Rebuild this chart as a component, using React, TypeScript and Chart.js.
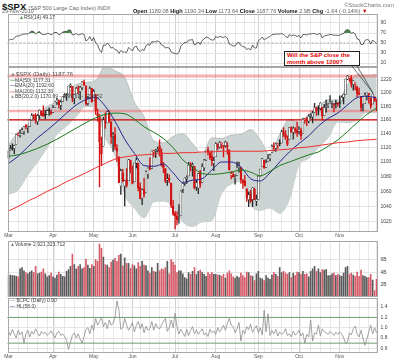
import React, { useEffect, useRef } from 'react';
import { Chart, registerables } from 'chart.js';

Chart.register(...registerables);

const FONT = "'Liberation Sans', Arial, sans-serif";

// ---------------- categories ----------------
const monthNames = ['Mar', 'Apr', 'May', 'Jun', 'Jul', 'Aug', 'Sep', 'Oct', 'Nov'];
const tradingDays: number[][] = [
  [1, 2, 3, 4, 5, 8, 9, 10, 11, 12, 15, 16, 17, 18, 19, 22, 23, 24, 25, 26, 29, 30, 31],
  [1, 5, 6, 7, 8, 9, 12, 13, 14, 15, 16, 19, 20, 21, 22, 23, 26, 27, 28, 29, 30],
  [3, 4, 5, 6, 7, 10, 11, 12, 13, 14, 17, 18, 19, 20, 21, 24, 25, 26, 27, 28],
  [1, 2, 3, 4, 7, 8, 9, 10, 11, 14, 15, 16, 17, 18, 21, 22, 23, 24, 25, 28, 29, 30],
  [1, 2, 6, 7, 8, 9, 12, 13, 14, 15, 16, 19, 20, 21, 22, 23, 26, 27, 28, 29, 30],
  [2, 3, 4, 5, 6, 9, 10, 11, 12, 13, 16, 17, 18, 19, 20, 23, 24, 25, 26, 27, 30, 31],
  [1, 2, 3, 7, 8, 9, 10, 13, 14, 15, 16, 17, 20, 21, 22, 23, 24, 27, 28, 29, 30],
  [1, 4, 5, 6, 7, 8, 11, 12, 13, 14, 15, 18, 19, 20, 21, 22, 25, 26, 27, 28, 29],
  [1, 2, 3, 4, 5, 8, 9, 10, 11, 12, 15, 16, 17, 18, 19, 22, 23, 24, 26, 29],
];

// ---------------- price series ($SPX daily) ----------------
const opens = [
  1105.4, 1117.0, 1119.4, 1119.1, 1125.1, 1138.4, 1137.6, 1140.2, 1143.0, 1151.7, 1148.5, 1150.8, 1159.9, 1166.1, 1166.7, 1157.3, 1166.5, 1172.7, 1170.0, 1167.6, 1167.7, 1173.8, 1171.8,
  1171.2, 1178.7, 1186.0, 1188.2, 1181.8, 1187.5, 1194.9, 1195.9, 1198.7, 1210.8, 1210.2, 1192.1, 1199.0, 1207.2, 1202.5, 1207.9, 1217.1, 1209.9, 1184.6, 1193.3, 1206.8,
  1188.6, 1197.5, 1169.2, 1164.4, 1127.0, 1122.3, 1156.4, 1155.4, 1170.0, 1157.2, 1136.5, 1138.8, 1119.6, 1107.3, 1067.3, 1084.8, 1067.4, 1075.5, 1074.3, 1102.6,
  1087.3, 1073.0, 1098.8, 1098.4, 1065.8, 1050.8, 1062.8, 1058.8, 1082.7, 1095.0, 1091.2, 1114.0, 1115.0, 1116.2, 1122.8, 1113.9, 1095.6, 1090.9, 1075.1, 1077.5, 1071.1, 1040.6,
  1031.1, 1027.7, 1028.1, 1028.5, 1062.9, 1070.5, 1077.2, 1080.7, 1095.6, 1094.5, 1093.9, 1066.0, 1064.5, 1086.7, 1072.1, 1092.2, 1102.9, 1117.4, 1112.8, 1108.1, 1098.4,
  1107.5, 1125.3, 1121.1, 1125.8, 1122.1, 1122.8, 1122.9, 1116.9, 1081.5, 1082.2, 1077.5, 1081.2, 1092.1, 1092.4, 1075.6, 1073.4, 1063.2, 1048.9, 1056.3, 1049.3, 1062.9, 1046.9,
  1049.7, 1080.7, 1093.6, 1102.6, 1092.4, 1101.2, 1104.6, 1113.4, 1121.2, 1119.4, 1123.9, 1126.4, 1126.6, 1142.8, 1139.5, 1131.1, 1131.7, 1148.6, 1142.3, 1146.8, 1145.0,
  1143.5, 1144.9, 1140.7, 1159.8, 1161.6, 1158.4, 1165.3, 1164.3, 1171.3, 1177.8, 1177.5, 1176.8, 1178.6, 1166.7, 1179.6, 1180.5, 1184.7, 1184.9, 1183.8, 1184.5, 1183.9,
  1185.7, 1187.9, 1193.8, 1198.3, 1221.2, 1223.2, 1223.6, 1213.1, 1213.0, 1209.1, 1200.4, 1194.8, 1178.3, 1183.8, 1196.1, 1198.1, 1192.5, 1183.7, 1194.2, 1189.1,
];
const highs = [
  1116.1, 1123.5, 1125.6, 1123.7, 1139.4, 1141.1, 1145.4, 1148.3, 1150.2, 1153.4, 1150.9, 1160.3, 1169.2, 1167.8, 1169.2, 1167.8, 1174.7, 1173.0, 1180.7, 1173.9, 1174.9, 1177.8, 1174.6,
  1181.4, 1187.7, 1191.8, 1189.6, 1188.6, 1194.7, 1199.2, 1199.0, 1210.7, 1213.9, 1210.2, 1197.9, 1208.6, 1210.9, 1210.3, 1217.3, 1219.8, 1211.4, 1195.1, 1209.4, 1207.0,
  1205.1, 1197.5, 1175.9, 1167.6, 1135.1, 1163.9, 1170.5, 1172.9, 1173.6, 1157.2, 1141.9, 1148.7, 1124.3, 1107.3, 1090.2, 1089.9, 1074.8, 1090.8, 1103.5, 1102.6,
  1094.8, 1098.6, 1105.7, 1098.4, 1071.4, 1063.2, 1077.7, 1087.9, 1092.0, 1105.9, 1115.6, 1116.6, 1117.7, 1121.0, 1131.2, 1118.5, 1099.6, 1090.9, 1083.6, 1082.6, 1071.1, 1048.1,
  1033.6, 1032.9, 1042.5, 1060.9, 1071.3, 1078.2, 1080.8, 1099.5, 1099.1, 1098.7, 1093.9, 1074.7, 1083.9, 1088.5, 1097.5, 1103.7, 1115.2, 1120.9, 1114.7, 1115.9, 1106.4,
  1127.3, 1125.4, 1128.8, 1126.6, 1123.1, 1129.2, 1127.2, 1116.9, 1086.7, 1086.3, 1082.6, 1100.1, 1099.8, 1092.4, 1075.6, 1081.6, 1063.2, 1059.4, 1061.5, 1065.2, 1064.4, 1055.1,
  1081.3, 1090.1, 1105.1, 1102.6, 1103.3, 1110.3, 1110.9, 1123.9, 1127.4, 1126.5, 1125.4, 1131.5, 1144.9, 1148.6, 1144.4, 1136.8, 1148.9, 1149.9, 1150.0, 1148.6, 1157.2,
  1150.3, 1148.2, 1162.8, 1162.3, 1163.9, 1167.7, 1168.7, 1172.6, 1184.4, 1178.9, 1181.2, 1185.5, 1178.6, 1182.9, 1189.4, 1183.9, 1196.1, 1187.1, 1183.8, 1189.5, 1185.5,
  1195.8, 1195.9, 1198.3, 1221.3, 1227.1, 1224.6, 1226.8, 1218.8, 1215.5, 1210.5, 1207.4, 1194.8, 1183.6, 1200.3, 1199.9, 1198.9, 1192.5, 1198.6, 1194.2, 1190.3,
];
const lows = [
  1105.4, 1116.5, 1116.6, 1111.3, 1125.1, 1136.8, 1134.9, 1140.1, 1138.9, 1146.9, 1141.4, 1150.4, 1159.9, 1161.5, 1155.3, 1152.9, 1161.2, 1166.0, 1165.1, 1161.5, 1167.7, 1166.6, 1168.0,
  1170.7, 1178.7, 1182.8, 1177.3, 1175.1, 1187.2, 1194.7, 1188.8, 1198.7, 1208.5, 1186.8, 1183.7, 1199.0, 1198.9, 1190.2, 1205.1, 1211.1, 1181.6, 1181.8, 1193.3, 1186.3,
  1188.6, 1168.1, 1158.2, 1065.8, 1095.0, 1122.3, 1147.7, 1155.4, 1156.1, 1126.1, 1114.9, 1117.2, 1100.7, 1071.6, 1055.9, 1072.7, 1040.8, 1065.6, 1074.3, 1084.8,
  1069.9, 1072.6, 1091.8, 1060.5, 1049.9, 1042.2, 1052.3, 1058.8, 1077.5, 1089.0, 1091.2, 1107.1, 1105.9, 1113.9, 1108.2, 1094.2, 1085.3, 1071.6, 1067.9, 1071.5, 1038.4, 1028.3,
  1010.9, 1015.9, 1018.4, 1028.5, 1058.2, 1068.1, 1070.5, 1080.7, 1087.7, 1080.5, 1063.3, 1061.1, 1056.9, 1065.3, 1072.1, 1087.9, 1101.8, 1109.8, 1103.1, 1094.8, 1088.0,
  1107.5, 1116.8, 1119.5, 1118.8, 1107.2, 1120.9, 1111.0, 1088.6, 1076.7, 1079.0, 1069.5, 1081.2, 1085.8, 1070.7, 1063.9, 1067.1, 1046.7, 1039.8, 1045.4, 1039.7, 1048.8, 1040.9,
  1049.7, 1080.4, 1093.6, 1091.2, 1092.4, 1101.2, 1101.4, 1113.4, 1115.6, 1114.6, 1118.9, 1122.4, 1126.6, 1136.2, 1131.6, 1122.8, 1131.7, 1142.0, 1132.1, 1140.3, 1136.1,
  1139.4, 1131.9, 1140.7, 1154.9, 1151.4, 1155.6, 1162.0, 1155.7, 1171.3, 1166.7, 1167.1, 1174.6, 1159.7, 1166.7, 1171.2, 1178.3, 1184.7, 1177.7, 1171.7, 1177.1, 1179.7,
  1177.7, 1187.9, 1183.6, 1198.3, 1220.3, 1217.6, 1208.9, 1204.3, 1204.5, 1194.1, 1197.2, 1173.0, 1173.3, 1183.8, 1189.4, 1184.6, 1176.9, 1183.7, 1186.9, 1173.6,
];
const closes = [
  1115.7, 1118.3, 1118.8, 1123.0, 1138.7, 1138.5, 1140.5, 1145.6, 1150.2, 1150.0, 1150.5, 1159.5, 1166.2, 1165.8, 1159.9, 1165.8, 1174.2, 1167.7, 1165.7, 1166.6, 1173.2, 1173.3, 1169.4,
  1178.1, 1187.4, 1189.4, 1182.5, 1186.4, 1194.4, 1196.5, 1197.3, 1210.7, 1211.7, 1192.1, 1197.5, 1207.2, 1205.9, 1208.7, 1217.3, 1212.1, 1183.7, 1191.4, 1206.8, 1186.7,
  1202.3, 1173.6, 1165.9, 1128.2, 1110.9, 1159.7, 1155.8, 1171.7, 1157.4, 1135.7, 1136.9, 1120.8, 1115.1, 1071.6, 1087.7, 1073.7, 1074.0, 1068.0, 1103.1, 1089.4,
  1070.7, 1098.4, 1102.8, 1064.9, 1050.5, 1062.0, 1055.7, 1086.8, 1091.6, 1089.6, 1115.2, 1114.6, 1116.0, 1117.5, 1113.2, 1095.3, 1092.0, 1073.7, 1076.8, 1074.6, 1041.2, 1030.7,
  1027.4, 1022.6, 1028.1, 1060.3, 1070.3, 1078.0, 1078.8, 1095.3, 1095.2, 1096.5, 1064.9, 1071.3, 1083.5, 1069.6, 1093.7, 1102.7, 1115.0, 1113.8, 1106.1, 1101.5, 1101.6,
  1125.9, 1120.5, 1127.2, 1125.8, 1121.6, 1127.8, 1121.1, 1089.5, 1083.6, 1079.3, 1079.4, 1092.5, 1094.2, 1075.6, 1071.7, 1067.4, 1051.9, 1055.3, 1047.2, 1064.6, 1048.9, 1049.3,
  1080.3, 1090.1, 1104.5, 1091.8, 1098.9, 1104.2, 1109.6, 1121.9, 1121.1, 1125.1, 1124.7, 1125.6, 1142.7, 1139.8, 1134.3, 1124.8, 1148.7, 1142.2, 1147.7, 1144.7, 1141.2,
  1146.2, 1137.0, 1160.8, 1160.0, 1158.1, 1165.2, 1165.3, 1169.8, 1178.1, 1173.8, 1176.2, 1184.7, 1165.9, 1178.2, 1180.3, 1183.1, 1185.6, 1185.6, 1182.5, 1183.8, 1183.3,
  1184.4, 1193.6, 1198.0, 1221.1, 1225.9, 1223.3, 1213.4, 1218.7, 1213.5, 1199.2, 1197.8, 1178.3, 1178.6, 1196.7, 1199.7, 1197.8, 1180.7, 1198.4, 1189.4, 1187.8,
];

// indicator lines, read once per week (every 5th trading day)
const sampleStep = 5;
const ma200Weekly = [1034, 1040, 1047, 1053, 1060, 1066, 1073, 1079, 1085, 1092, 1098, 1104, 1107, 1109, 1110, 1111, 1112, 1112, 1113, 1113, 1114, 1114, 1115, 1115, 1115, 1115, 1115, 1116, 1117, 1118, 1120, 1121, 1123, 1125, 1127, 1128, 1130, 1131, 1132];
const ma50Weekly = [1108, 1110, 1114, 1119, 1125, 1132, 1140, 1148, 1156, 1163, 1168, 1170, 1169, 1161, 1150, 1142, 1133, 1120, 1103, 1093, 1084, 1083, 1084, 1086, 1089, 1086, 1081, 1087, 1095, 1100, 1105, 1110, 1114, 1122, 1131, 1143, 1156, 1168, 1177.3];
const ema20Weekly = [1098, 1108, 1121, 1134, 1145, 1157, 1170, 1182, 1190, 1193, 1180, 1158, 1132, 1112, 1095, 1094, 1097, 1085, 1072, 1075, 1077, 1089, 1100, 1100, 1093, 1077, 1074, 1085, 1100, 1114, 1126, 1137, 1151, 1162, 1170, 1182, 1193, 1195, 1192.6];
const bbUpperWeekly = [1124, 1142, 1154, 1168, 1180, 1187, 1199, 1213, 1216, 1219, 1242, 1234, 1224, 1186, 1165, 1130, 1127, 1136, 1140, 1126, 1112, 1134, 1133, 1138, 1139, 1146, 1131, 1110, 1139, 1161, 1156, 1169, 1180, 1190, 1189, 1212, 1228, 1227, 1228.5];
const bbLowerWeekly = [1056, 1062, 1082, 1100, 1120, 1139, 1151, 1165, 1180, 1179, 1134, 1110, 1056, 1038, 1025, 1046, 1047, 1040, 1020, 1014, 1020, 1022, 1057, 1070, 1073, 1042, 1035, 1038, 1031, 1049, 1096, 1105, 1120, 1134, 1157, 1156, 1160, 1171, 1170.7];

// ---------------- lower/upper panels ----------------
const rsiValues = [
  55, 57, 57, 59, 64, 64, 65, 67, 68, 68, 68, 71, 74, 73, 68, 71, 73, 68, 67, 67, 69, 69, 66,
  69, 71, 71, 66, 68, 72, 73, 73, 76, 76, 66, 67, 69, 66, 67, 69, 67, 54, 57, 63, 54,
  61, 50, 47, 36, 31, 46, 45, 50, 46, 40, 41, 37, 36, 29, 35, 32, 32, 31, 41, 38,
  34, 42, 44, 36, 33, 37, 35, 45, 47, 46, 53, 52, 53, 54, 52, 46, 45, 40, 41, 40, 32, 30,
  29, 28, 31, 44, 48, 51, 51, 56, 56, 57, 46, 48, 52, 47, 55, 58, 62, 61, 58, 56, 56,
  63, 61, 63, 62, 61, 63, 60, 48, 46, 44, 44, 50, 51, 45, 43, 42, 37, 39, 36, 46, 40, 40,
  54, 58, 62, 56, 59, 61, 63, 67, 67, 68, 68, 68, 69, 67, 64, 60, 67, 64, 66, 65, 63,
  65, 60, 67, 67, 66, 68, 68, 69, 69, 67, 68, 69, 60, 64, 65, 66, 67, 67, 65, 66, 65,
  66, 68, 69, 75, 77, 75, 69, 71, 68, 58, 57, 47, 47, 55, 57, 56, 48, 56, 52, 49.17,
];
const volumesB = [
  3.5, 3.6, 3.5, 3.5, 3.4, 3.3, 4.6, 4.8, 4.3, 4.0, 3.8, 4.1, 4.3, 4.0, 5.0, 3.8, 3.9, 4.1, 4.6, 3.8, 3.3, 3.5, 3.9,
  3.3, 3.1, 3.6, 4.1, 3.7, 3.4, 3.3, 4.2, 4.5, 5.0, 7.0, 5.3, 4.6, 5.0, 5.3, 4.6, 4.8, 6.2, 5.2, 4.7, 5.3,
  5.0, 6.1, 5.8, 8.6, 7.9, 6.5, 5.3, 5.2, 4.8, 5.7, 6.0, 6.3, 5.8, 6.8, 7.0, 5.1, 6.4, 5.5, 5.5, 4.7,
  5.3, 5.1, 4.6, 5.6, 5.0, 5.8, 5.2, 5.1, 4.3, 3.9, 4.8, 4.2, 4.1, 5.5, 4.3, 4.6, 4.5, 4.8, 5.8, 3.8, 6.1, 5.7,
  5.2, 4.0, 4.3, 4.3, 3.8, 3.2, 3.0, 4.0, 3.7, 4.2, 4.8, 3.7, 4.2, 4.4, 4.0, 3.7, 3.4, 4.0, 3.7, 4.0, 3.7,
  3.7, 3.6, 3.6, 3.4, 3.7, 3.1, 3.9, 4.3, 3.8, 3.3, 3.1, 3.4, 3.2, 3.9, 3.5, 3.2, 4.1, 4.0, 3.5, 3.4, 2.7, 3.8,
  4.2, 3.1, 3.0, 2.7, 3.5, 3.1, 2.9, 3.6, 4.0, 3.7, 3.4, 4.8, 4.0, 4.2, 3.9, 3.7, 4.0, 3.2, 3.9, 3.5, 4.1,
  4.0, 3.7, 4.2, 3.7, 3.8, 3.3, 4.2, 4.6, 5.0, 4.2, 4.6, 4.0, 4.5, 4.4, 4.5, 3.5, 3.5, 3.8, 3.9, 3.5, 3.7,
  3.5, 3.4, 3.9, 4.8, 5.0, 3.7, 3.9, 3.6, 3.4, 4.1, 3.4, 4.4, 3.5, 3.4, 3.2, 3.2, 3.7, 2.8, 1.1, 2.9,
];
const cpcValues = [
  0.93, 0.85, 0.97, 0.88, 0.80, 0.95, 0.86, 0.92, 0.70, 0.88, 0.95, 0.82, 0.93, 0.87, 0.98, 0.90, 0.84, 0.93, 0.88, 0.91, 0.85, 0.89, 0.94,
  0.86, 0.80, 0.90, 0.93, 0.85, 0.88, 0.83, 0.75, 0.58, 0.72, 0.85, 0.90, 0.80, 0.88, 0.78, 0.70, 0.83, 0.97, 1.00, 0.88, 1.05,
  0.95, 1.18, 1.05, 1.12, 1.20, 1.02, 1.10, 0.98, 1.15, 1.05, 1.08, 1.20, 1.52, 1.35, 0.97, 1.00, 1.18, 1.05, 0.95, 1.02,
  1.10, 0.92, 1.05, 1.12, 0.98, 1.08, 0.90, 1.03, 0.95, 0.98, 1.12, 0.95, 1.08, 1.00, 0.98, 1.05, 1.12, 1.18, 0.93, 1.00, 1.15, 1.00,
  1.28, 1.02, 0.88, 0.97, 0.90, 0.83, 0.97, 0.85, 0.95, 1.02, 0.88, 0.96, 0.87, 0.93, 0.98, 0.86, 0.90, 0.83, 0.97, 0.90, 0.94,
  0.87, 1.00, 0.92, 0.97, 1.05, 0.95, 1.08, 1.18, 1.05, 1.02, 0.90, 0.98, 1.10, 0.74, 0.95, 0.88, 1.02, 0.96, 1.07, 0.91, 0.98, 1.04,
  0.90, 1.00, 0.86, 1.34, 0.92, 1.27, 0.85, 0.95, 0.88, 0.97, 0.84, 0.92, 0.87, 0.90, 0.98, 0.85, 0.88, 0.82, 0.93, 0.86, 0.89,
  0.95, 0.84, 0.90, 0.70, 0.87, 0.82, 1.15, 0.74, 0.90, 0.88, 1.05, 0.84, 0.98, 0.92, 0.90, 0.87, 0.93, 0.89, 0.85, 0.91, 0.87,
  0.92, 0.88, 0.80, 0.70, 0.72, 0.90, 0.86, 0.98, 1.03, 0.88, 0.82, 0.95, 0.80, 0.66, 0.78, 0.92, 1.05, 0.88, 1.00, 0.90,
];

// ---------------- axis ticks & reference levels ----------------
const priceTicks = [1020, 1040, 1060, 1080, 1100, 1120, 1140, 1160, 1180, 1200, 1220];
const rsiTicks = [10, 30, 50, 70, 90];
const volTicks = [2, 4, 6];
const cpcTicks = [0.6, 0.8, 1.0, 1.2, 1.4];
const priceLevels = [1226, 1173, 1160];
const rsiLevels = [50];
const cpcLevels = [1.2, 0.7];

// ---------------- derived tables ----------------
const N = closes.length;
const labels: string[] = [];
const monthLabel: string[] = [];
const weekStart: boolean[] = [];
{
  let prevDow = 9;
  tradingDays.forEach((days, mi) => {
    days.forEach((d, di) => {
      labels.push(`${monthNames[mi]} ${d}`);
      monthLabel.push(di === 0 ? monthNames[mi] : '');
      const dow = new Date(2010, mi + 2, d).getDay();
      weekStart.push(dow < prevDow);
      prevDow = dow;
    });
  });
}
const sparse = (vals: number[]) => {
  const out: (number | null)[] = new Array(N).fill(null);
  vals.forEach((v, k) => { out[k * sampleStep] = v; });
  return out;
};

const RED = '#d41414';
const BLACK = '#2a2a2a';
const downDay = closes.map((c, i) => c < (i ? closes[i - 1] : opens[i]));
const candleColor = downDay.map((d) => (d ? RED : BLACK));
const candleFill = closes.map((c, i) => (c < opens[i] ? candleColor[i] : '#ffffff'));
const volColor = downDay.map((d) => (d ? '#d65a68' : '#5a5a5a'));

// ---------------- layout ----------------
const W = 400;
const PLOT_LEFT = 7.5;
const AXIS_W = 22.5;
const RSI_TOP = 14, RSI_H = 53;
const PRICE_TOP = 67, PRICE_H = 173, PRICE_XH = 8;
const VOL_TOP = 241, VOL_H = 56;
const CPC_TOP = 298, CPC_H = 65, CPC_XH = 10;

const zeroPad = (s: any) => {
  s.paddingTop = 0;
  s.paddingBottom = 0;
  s.paddingLeft = 0;
  s.paddingRight = 0;
};

const xAxis = (showLabels: boolean, height: number) => ({
  type: 'category',
  offset: true,
  grid: {
    offset: false,
    drawTicks: false,
    lineWidth: 1,
    color: (ctx: any) => (monthLabel[ctx.index] ? '#d2d2d2' : weekStart[ctx.index] ? '#e9e9e9' : 'rgba(0,0,0,0)'),
  },
  border: { display: false },
  ticks: {
    display: showLabels,
    autoSkip: false,
    maxRotation: 0,
    minRotation: 0,
    padding: 1,
    color: '#555',
    font: { size: 5, family: FONT },
    callback: (_v: any, i: number) => monthLabel[i],
  },
  afterFit: (s: any) => { s.height = height; zeroPad(s); },
});

const yAxis = (tickVals: number[], min: number, max: number, fmt: (v: number) => string, type = 'linear') => ({
  type,
  position: 'right',
  min,
  max,
  grid: { color: '#e4e4e4', drawTicks: false, lineWidth: 1 },
  border: { display: false },
  ticks: { padding: 3, color: '#444', font: { size: 5, family: FONT }, autoSkip: false, callback: (v: any) => fmt(Number(v)) },
  afterBuildTicks: (s: any) => { s.ticks = tickVals.map((v) => ({ value: v })); },
  afterFit: (s: any) => { s.width = AXIS_W; zeroPad(s); },
});

const panelBorder = {
  id: 'panelBorder',
  afterDraw(chart: any) {
    const { ctx, chartArea: a } = chart;
    ctx.save();
    ctx.strokeStyle = '#a8a8a8';
    ctx.lineWidth = 1;
    ctx.strokeRect(Math.round(a.left) + 0.5, Math.round(a.top) + 0.5, Math.round(a.right - a.left) - 1, Math.round(a.bottom - a.top) - 1);
    ctx.restore();
  },
};

type LevelStyle = { color: string; width: number; dash?: number[] };
const levelPlugin = (levels: number[], styles: LevelStyle[], afterIndex: number) => {
  const draw = (chart: any) => {
    const { ctx, chartArea: a } = chart;
    const y = chart.scales.y;
    ctx.save();
    levels.forEach((lv, k) => {
      const st = styles[k];
      const py = y.getPixelForValue(lv);
      ctx.strokeStyle = st.color;
      ctx.lineWidth = st.width;
      ctx.setLineDash(st.dash || []);
      ctx.beginPath();
      ctx.moveTo(a.left, py);
      ctx.lineTo(a.right, py);
      ctx.stroke();
    });
    ctx.restore();
  };
  return {
    id: 'levels',
    beforeDatasetsDraw(chart: any) { if (afterIndex < 0) draw(chart); },
    afterDatasetDraw(chart: any, args: any) { if (afterIndex >= 0 && args.index === afterIndex) draw(chart); },
  };
};

const baseOptions = (x: any, y: any) => ({
  responsive: false,
  animation: false,
  devicePixelRatio: 1,
  events: [],
  layout: { padding: { left: PLOT_LEFT, right: 0, top: 0, bottom: 0 }, autoPadding: false },
  plugins: { legend: { display: false }, tooltip: { enabled: false } },
  scales: { x, y },
});

const lineDs = (data: (number | null)[], color: string, width: number, order: number, extra: any = {}) => ({
  type: 'line',
  data,
  borderColor: color,
  borderWidth: width,
  pointRadius: 0,
  spanGaps: true,
  cubicInterpolationMode: 'monotone',
  fill: false,
  order,
  ...extra,
});

export default function App() {
  const rsiRef = useRef<HTMLCanvasElement | null>(null);
  const priceRef = useRef<HTMLCanvasElement | null>(null);
  const volRef = useRef<HTMLCanvasElement | null>(null);
  const cpcRef = useRef<HTMLCanvasElement | null>(null);

  useEffect(() => {
    const charts: Chart[] = [];

    charts.push(new Chart(rsiRef.current as HTMLCanvasElement, {
      type: 'line',
      data: {
        labels,
        datasets: [
          {
            data: rsiValues,
            borderColor: '#3c3c3c',
            borderWidth: 0.8,
            pointRadius: 0,
            fill: { target: { value: 70 }, above: '#4d8a4d', below: 'rgba(0,0,0,0)' },
          } as any,
        ],
      },
      options: baseOptions(xAxis(false, 0), yAxis(rsiTicks, 2, 108, (v) => String(v))) as any,
      plugins: [levelPlugin(rsiLevels, [{ color: '#9a9a9a', width: 0.8, dash: [2, 2] }], -1), panelBorder],
    }));

    charts.push(new Chart(priceRef.current as HTMLCanvasElement, {
      type: 'bar',
      data: {
        labels,
        datasets: [
          lineDs(sparse(bbUpperWeekly), '#9fa9a9', 0.6, 10, { fill: '+1', backgroundColor: '#ccd3d3' }),
          lineDs(sparse(bbLowerWeekly), '#9fa9a9', 0.6, 10),
          {
            type: 'bar',
            data: lows.map((l, i) => [l, highs[i]]),
            backgroundColor: candleColor,
            barThickness: 0.7,
            grouped: false,
            order: 5,
          },
          {
            type: 'bar',
            data: opens.map((o, i) => [o, closes[i]]),
            backgroundColor: candleFill,
            borderColor: candleColor,
            borderWidth: 0.5,
            borderSkipped: false,
            barThickness: 1.8,
            minBarLength: 1,
            grouped: false,
            order: 4,
          },
          lineDs(sparse(ma200Weekly), '#ee3030', 1, 1),
          lineDs(sparse(ma50Weekly), '#1d7a1d', 1, 1),
          lineDs(sparse(ema20Weekly), '#24248c', 1, 1),
        ] as any,
      },
      options: baseOptions(xAxis(true, PRICE_XH), yAxis(priceTicks, 1007, 1240, (v) => String(v), 'logarithmic')) as any,
      plugins: [
        levelPlugin(priceLevels, [
          { color: 'rgba(240,110,110,0.55)', width: 3 },
          { color: 'rgba(240,110,110,0.55)', width: 2.5 },
          { color: '#cc0000', width: 1.3 },
        ], 0),
        panelBorder,
      ],
    }));

    charts.push(new Chart(volRef.current as HTMLCanvasElement, {
      type: 'bar',
      data: {
        labels,
        datasets: [
          { data: volumesB, backgroundColor: volColor, barPercentage: 0.85, categoryPercentage: 1 } as any,
        ],
      },
      options: baseOptions(xAxis(false, 0), yAxis(volTicks, 0, 9.05, (v) => `${v}B`)) as any,
      plugins: [panelBorder],
    }));

    charts.push(new Chart(cpcRef.current as HTMLCanvasElement, {
      type: 'line',
      data: {
        labels,
        datasets: [
          { data: cpcValues, borderColor: '#8c8c8c', borderWidth: 0.8, pointRadius: 0, fill: false } as any,
        ],
      },
      options: baseOptions(xAxis(true, CPC_XH), yAxis(cpcTicks, 0.509, 1.577, (v) => v.toFixed(1))) as any,
      plugins: [levelPlugin(cpcLevels, [{ color: '#6f9f6f', width: 1 }, { color: '#6f9f6f', width: 1 }], -1), panelBorder],
    }));

    return () => charts.forEach((c) => c.destroy());
  }, []);

  const canvasStyle = (top: number, h: number): React.CSSProperties => ({
    position: 'absolute', left: 0, top, width: W, height: h, display: 'block',
  });
  const small: React.CSSProperties = { position: 'absolute', fontSize: 5, lineHeight: '5.6px', color: '#444', whiteSpace: 'nowrap' };

  return (
    <div style={{ position: 'fixed', left: 0, top: 0, width: 400, height: 363, background: '#fff', overflow: 'hidden', fontFamily: FONT }}>
      <canvas ref={rsiRef} width={W} height={RSI_H} style={canvasStyle(RSI_TOP, RSI_H)} />
      <canvas ref={priceRef} width={W} height={PRICE_H} style={canvasStyle(PRICE_TOP, PRICE_H)} />
      <canvas ref={volRef} width={W} height={VOL_H} style={canvasStyle(VOL_TOP, VOL_H)} />
      <canvas ref={cpcRef} width={W} height={CPC_H} style={canvasStyle(CPC_TOP, CPC_H)} />

      {/* header */}
      <div style={{ position: 'absolute', left: 2, top: 0, whiteSpace: 'nowrap', lineHeight: '10px' }}>
        <span style={{ fontSize: 9.5, fontWeight: 'bold', color: '#111' }}>$SPX</span>
        <span style={{ fontSize: 5.5, color: '#666', marginLeft: 2 }}>(S&amp;P 500 Large Cap Index) INDX</span>
      </div>
      <div style={{ position: 'absolute', left: 2, top: 8, fontSize: 5.5, color: '#666', whiteSpace: 'nowrap' }}>29-Nov-2010</div>
      <div style={{ position: 'absolute', right: 6, top: 2, fontSize: 6, color: '#777', whiteSpace: 'nowrap' }}>©StockCharts.com</div>
      <div style={{ position: 'absolute', left: 133, top: 8, fontSize: 5.6, color: '#666', whiteSpace: 'nowrap' }}>
        <b style={{ color: '#111' }}>Open</b> 1189.08 <b style={{ color: '#111' }}>High</b> 1190.34 <b style={{ color: '#111' }}>Low</b> 1173.64{' '}
        <b style={{ color: '#111' }}>Close</b> 1187.76 <b style={{ color: '#111' }}>Volume</b> 2.9B <b style={{ color: '#111' }}>Chg</b> -1.64 (-0.14%){' '}
        <span style={{ color: '#c00' }}>▼</span>
      </div>

      {/* panel legends */}
      <div style={{ ...small, left: 19, top: 15 }}><span style={{ color: '#4d8a4d' }}>▲</span>RSI(14) 49.17</div>
      <div style={{ ...small, left: 10, top: 72 }}>
        <div style={{ fontSize: 6, color: '#555' }}><span style={{ color: '#888' }}>▲</span>$SPX (Daily) 1187.76</div>
        <div><span style={{ color: '#1d7a1d' }}>—</span>MA(50) 1177.31</div>
        <div><span style={{ color: '#24248c' }}>—</span>EMA(20) 1192.60</div>
        <div><span style={{ color: '#ee3030' }}>—</span>MA(200) 1132.30</div>
        <div><span style={{ color: '#999' }}>▲</span>BB(20,2.0) 1170.69 - 1199.61 - 1228.52</div>
      </div>
      <div style={{ ...small, left: 10, top: 242 }}><span style={{ color: '#777' }}>▲</span>Volume 2,921,323,712</div>
      <div style={{ ...small, left: 10, top: 298 }}>
        <div><span style={{ color: '#8c8c8c' }}>—</span> $CPC (Daily) 0.90</div>
        <div><span style={{ color: '#24248c' }}>—</span> HL(58.0)</div>
      </div>

      {/* annotation */}
      <svg width={400} height={363} style={{ position: 'absolute', left: 0, top: 0, pointerEvents: 'none' }}>
        <line x1={352} y1={66} x2={373} y2={93} stroke="#333" strokeWidth={0.7} />
        <line x1={357} y1={66} x2={373} y2={93} stroke="#333" strokeWidth={0.7} />
      </svg>
      <div style={{
        position: 'absolute', left: 284, top: 51, width: 72, height: 13, background: '#fff', border: '1px solid #222',
        color: '#e00000', fontWeight: 'bold', fontSize: 6, lineHeight: '6.5px', padding: '0 0 0 2px', whiteSpace: 'nowrap',
      }}>
        <div>Will the S&amp;P close the</div>
        <div>month above 1200?</div>
      </div>
    </div>
  );
}
